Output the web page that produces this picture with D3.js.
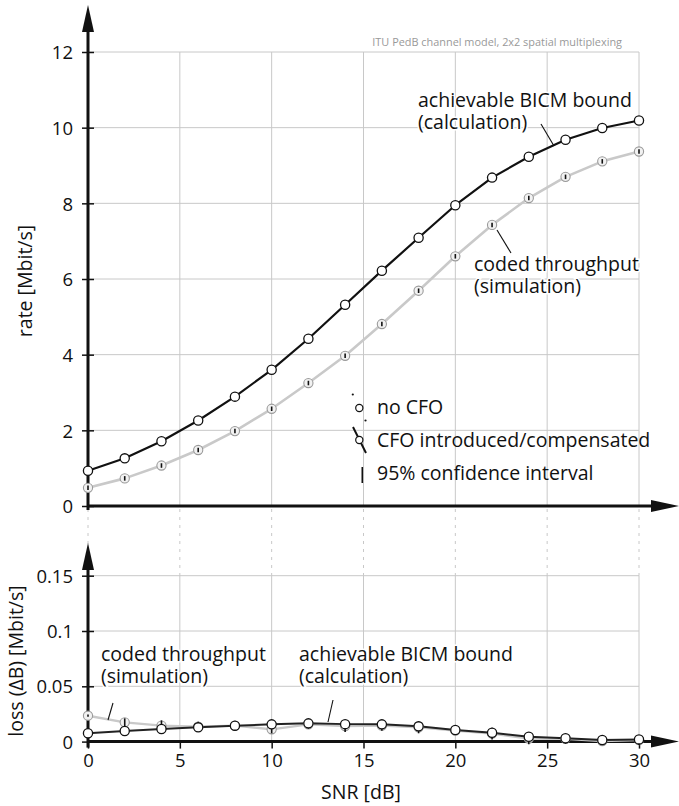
<!DOCTYPE html>
<html><head><meta charset="utf-8">
<script src="https://cdn.jsdelivr.net/npm/d3@7"></script>
<style>
body{margin:0;background:#fff}
svg{display:block;font-family:"Open Sans",sans-serif}
</style></head>
<body><svg id="c" width="679" height="806"></svg>
<script>
// ---------- data ----------
const snr = [0,2,4,6,8,10,12,14,16,18,20,22,24,26,28,30];
const bicmRate = [0.93,1.26,1.71,2.26,2.89,3.60,4.42,5.32,6.22,7.09,7.95,8.68,9.23,9.68,9.99,10.19];
const simRate  = [0.48,0.73,1.07,1.48,1.98,2.57,3.25,3.97,4.81,5.69,6.60,7.43,8.14,8.70,9.11,9.37];
const simRateCI = [0.06,0.06,0.06,0.06,0.06,0.06,0.06,0.06,0.06,0.06,0.06,0.06,0.06,0.06,0.06,0.06];
const bicmLoss = [0.0075,0.0096,0.0114,0.0129,0.0144,0.0156,0.0165,0.0158,0.0156,0.0138,0.0105,0.0080,0.0044,0.0030,0.0015,0.0020];
const simLoss  = [0.0234,0.0174,0.0144,0.0135,0.0144,0.0111,0.0156,0.0141,0.0144,0.0129,0.0099,0.0072,0.0027,0.0025,0.0005,0.0014];
const simLossCI = [0.0010,0.0036,0.0048,0.0045,0.0036,0.0036,0.0040,0.0054,0.0045,0.0054,0.0020,0.0054,0.0050,0.0045,0.0032,0.0045];
const xTicks = [0,5,10,15,20,25,30];
const yTopTicks = [0,2,4,6,8,10,12];
const yBotTicks = [0,0.05,0.1,0.15];
const yBotTickLabels = ["0","0.05","0.1","0.15"];
const title = "ITU PedB channel model, 2x2 spatial multiplexing";
const legendItems = ["no CFO","CFO introduced/compensated","95% confidence interval"];

// ---------- layout ----------
const svg = d3.select("#c");
const x = d3.scaleLinear([0,30],[88,639]);
const yT = d3.scaleLinear([0,12],[506,52]);
const yB = d3.scaleLinear([0,0.15],[741.6,575.7]);
const GRID="#c8c8c8", DARK="#111", LIGHT="#c9c9c9";
const FS = 19.5, TFS = 18.5;

// grids
const g = svg.append("g");
g.selectAll(".hgT").data(yTopTicks.slice(1)).join("line")
 .attr("x1",x(0)).attr("x2",x(30)).attr("y1",d=>yT(d)).attr("y2",d=>yT(d))
 .attr("stroke",GRID).attr("stroke-width",1);
g.selectAll(".vgT").data(xTicks.slice(1)).join("line")
 .attr("x1",d=>x(d)).attr("x2",d=>x(d)).attr("y1",yT(12)).attr("y2",yT(0))
 .attr("stroke",GRID).attr("stroke-width",1);
g.selectAll(".hgB").data(yBotTicks.slice(1)).join("line")
 .attr("x1",x(0)).attr("x2",x(30)).attr("y1",d=>yB(d)).attr("y2",d=>yB(d))
 .attr("stroke",GRID).attr("stroke-width",1);
g.selectAll(".vgB").data(xTicks.slice(1)).join("line")
 .attr("x1",d=>x(d)).attr("x2",d=>x(d)).attr("y1",yB(0.15)).attr("y2",yB(0))
 .attr("stroke",GRID).attr("stroke-width",1);
g.selectAll(".dash").data(xTicks).join("line")
 .attr("x1",d=>x(d)).attr("x2",d=>x(d)).attr("y1",yT(0)+3).attr("y2",yB(0.15))
 .attr("stroke",GRID).attr("stroke-width",1).attr("stroke-dasharray","3,5");

// title
svg.append("text").attr("x",x(30)-17).attr("y",46).attr("text-anchor","end")
 .attr("font-size",10.9).attr("fill","#999").text(title);

// axes
function yAxis(scale, ticks, labels, top, bottom){
  const ax = d3.axisLeft(scale).tickValues(ticks).tickSize(6).tickPadding(9)
    .tickFormat((d,i)=>labels? labels[i] : d);
  const a = svg.append("g").attr("transform",`translate(${x(0)},0)`).call(ax);
  a.select(".domain").remove();
  a.selectAll(".tick line").attr("x1",6).attr("stroke",DARK).attr("stroke-width",1.5);
  a.selectAll(".tick text").attr("font-size",TFS).attr("fill","#111")
    .attr("font-family","Open Sans").attr("dy","0.36em");
  svg.append("line").attr("x1",x(0)).attr("x2",x(0)).attr("y1",bottom).attr("y2",top+24)
    .attr("stroke",DARK).attr("stroke-width",3);
  svg.append("path").attr("d",`M${x(0)},${top} L${x(0)-6},${top+27} L${x(0)+6},${top+27} Z`).attr("fill",DARK);
}
function xAxisLine(yy){
  svg.append("line").attr("x1",x(0)-1).attr("x2",655).attr("y1",yy).attr("y2",yy)
    .attr("stroke",DARK).attr("stroke-width",3);
  svg.append("path").attr("d",`M679,${yy} L651,${yy-6} L651,${yy+6} Z`).attr("fill",DARK);
}
yAxis(yT, yTopTicks, null, 5, yT(0)+4);
xAxisLine(yT(0));
yAxis(yB, yBotTicks, yBotTickLabels, 543, yB(0)+6);
xAxisLine(yB(0));
const xa = svg.append("g").attr("transform",`translate(0,${yB(0)})`)
 .call(d3.axisBottom(x).tickValues(xTicks).tickSize(7).tickPadding(5));
xa.select(".domain").remove();
xa.selectAll(".tick line").attr("stroke",DARK).attr("stroke-width",1.5);
xa.selectAll(".tick text").attr("font-size",TFS).attr("fill","#111").attr("font-family","Open Sans");

// axis titles
svg.append("text").attr("transform",`translate(32,281) rotate(-90)`).attr("text-anchor","middle")
 .attr("font-size",FS).attr("fill","#111").text("rate [Mbit/s]");
svg.append("text").attr("transform",`translate(23,661) rotate(-90)`).attr("text-anchor","middle")
 .attr("font-size",FS).attr("fill","#111").text("loss (ΔB) [Mbit/s]");
svg.append("text").attr("x",361).attr("y",799).attr("text-anchor","middle")
 .attr("font-size",FS).attr("fill","#111").text("SNR [dB]");

// series
function series(ys, yscale, color, width){
  const line = d3.line().x((d,i)=>x(snr[i])).y(d=>yscale(d));
  svg.append("path").datum(ys).attr("d",line).attr("fill","none")
    .attr("stroke",color).attr("stroke-width",width).attr("stroke-linejoin","round");
}
function openMarkers(ys, yscale){
  svg.append("g").selectAll("circle").data(ys).join("circle")
   .attr("cx",(d,i)=>x(snr[i])).attr("cy",d=>yscale(d)).attr("r",4.6)
   .attr("fill","#fff").attr("stroke",DARK).attr("stroke-width",1.3);
}
function ciMarkers(ys, ci, yscale){
  const gg = svg.append("g");
  gg.selectAll("circle").data(ys).join("circle")
   .attr("cx",(d,i)=>x(snr[i])).attr("cy",d=>yscale(d)).attr("r",4.6)
   .attr("fill","#f2f2f2").attr("stroke","#9a9a9a").attr("stroke-width",1.1);
  gg.selectAll("line").data(ys).join("line")
   .attr("x1",(d,i)=>x(snr[i])).attr("x2",(d,i)=>x(snr[i]))
   .attr("y1",(d,i)=>yscale(d+ci[i])).attr("y2",(d,i)=>yscale(d-ci[i]))
   .attr("stroke",DARK).attr("stroke-width",1.6);
}
series(simRate, yT, LIGHT, 2.6);
series(bicmRate, yT, DARK, 2.2);
ciMarkers(simRate, simRateCI, yT);
openMarkers(bicmRate, yT);

series(simLoss, yB, LIGHT, 2.4);
series(bicmLoss, yB, "#222", 2);
ciMarkers(simLoss, simLossCI, yB);
openMarkers(bicmLoss, yB);

// annotations
function note(lines, tx, ty, lx1, ly1, lx2, ly2){
  svg.append("line").attr("x1",lx1).attr("y1",ly1).attr("x2",lx2).attr("y2",ly2)
   .attr("stroke",DARK).attr("stroke-width",1.1);
  const t = svg.append("text").attr("font-size",FS).attr("fill","#111")
   .attr("stroke","#fff").attr("stroke-width",3).attr("paint-order","stroke");
  lines.forEach((s,i)=>t.append("tspan").attr("x",tx).attr("y",ty+i*21.5).text(s));
}
note(["achievable BICM bound","(calculation)"], 418, 107, 541, 124, 554, 146);
note(["coded throughput","(simulation)"], 474, 271, 497, 230, 511, 253);
note(["coded throughput","(simulation)"], 101, 661, 113, 703, 108, 720);
note(["achievable BICM bound","(calculation)"], 299, 661, 333, 700, 328, 722);

// legend
const lg = svg.append("g");
lg.append("circle").attr("cx",352.8).attr("cy",394.5).attr("r",1.1).attr("fill",DARK);
lg.append("circle").attr("cx",365.5).attr("cy",420.5).attr("r",1.1).attr("fill",DARK);
lg.append("circle").attr("cx",359.3).attr("cy",408).attr("r",3.6).attr("fill","#fff").attr("stroke",DARK).attr("stroke-width",1.2);
lg.append("line").attr("x1",353).attr("y1",427).attr("x2",366).attr("y2",453).attr("stroke",DARK).attr("stroke-width",2);
lg.append("circle").attr("cx",359.3).attr("cy",440).attr("r",3.6).attr("fill","#fff").attr("stroke",DARK).attr("stroke-width",1.2);
lg.append("line").attr("x1",362.3).attr("y1",467).attr("x2",362.3).attr("y2",483).attr("stroke",DARK).attr("stroke-width",1.6);
lg.selectAll("text").data(legendItems).join("text")
 .attr("x",377).attr("y",(d,i)=>413.5+i*33.2).attr("font-size",FS).attr("fill","#111").text(d=>d);
</script></body></html>
